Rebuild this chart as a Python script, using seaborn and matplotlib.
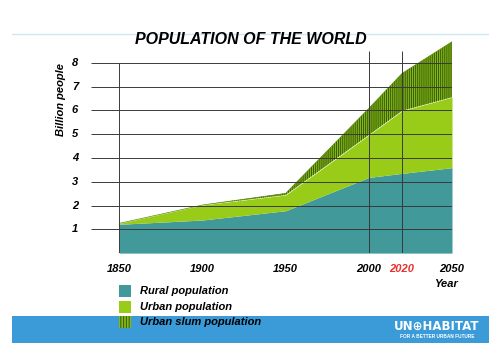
import matplotlib
matplotlib.use("Agg")
import matplotlib.pyplot as plt
import seaborn as sns
import numpy as np
import pandas as pd
from matplotlib.patches import Rectangle

years = [1850, 1900, 1950, 2000, 2020, 2050]
rural = [1.21, 1.39, 1.78, 3.18, 3.35, 3.59]
urban = [0.04, 0.63, 0.66, 1.78, 2.63, 2.96]
slum = [0.00, 0.00, 0.07, 1.12, 1.57, 2.33]
tick_years = [1850, 1900, 1950, 2000, 2020, 2050]
tick_labels = ["1850", "1900", "1950", "2000", "2020", "2050"]
y_ticks = [1, 2, 3, 4, 5, 6, 7, 8]
legend_labels = ["Rural population", "Urban population", "Urban slum population"]

sns.set_style("white")
plt.rcParams['font.family'] = ['Liberation Sans', 'DejaVu Sans']
plt.rcParams['text.color'] = 'black'
plt.rcParams['hatch.linewidth'] = 0.7

df = pd.DataFrame({"year": years, "rural": rural, "urban": urban, "slum": slum})
df["urban_top"] = df["rural"] + df["urban"]
df["slum_top"] = df["urban_top"] + df["slum"]

W, H = 499, 356
fig = plt.figure(figsize=(W / 100, H / 100), dpi=100)

def fx(px):
    return px / W

def fy(py):
    return 1 - py / H

x0_px, x1_px = 91, 452
unit = 23.8
y0_px = 253.1
ymax = 9.0
ax = fig.add_axes([fx(x0_px), fy(y0_px), (x1_px - x0_px) / W, ymax * unit / H])
px_per_year = (452 - 119.3) / 200
xmin = 1850 - (119.3 - 91) / px_per_year
ax.set_xlim(xmin, 2050)
ax.set_ylim(0, ymax)

teal = "#41999a"
green = "#99cc19"
slum_face = "#86b816"
slum_edge = "#355a08"

ax.fill_between(df["year"], 0, df["rural"], color=teal, lw=0, zorder=1)
ax.fill_between(df["year"], df["rural"], df["urban_top"], color=green, lw=0, zorder=1)
ax.fill_between(df["year"], df["urban_top"], df["slum_top"], facecolor=slum_face,
                edgecolor=slum_edge, hatch="||||||||", lw=0, zorder=1)
sns.lineplot(x="year", y="slum_top", data=df, ax=ax, color="#5a8a10", lw=0.5, zorder=2)

grid_c = "#3a3a3a"
ax.hlines(y_ticks, xmin, 2050, colors=grid_c, lw=0.7, zorder=3)
ax.vlines([1850], 0, 8, colors=grid_c, lw=0.7, zorder=3)
ax.vlines([2000, 2020], 0, 8.5, colors=grid_c, lw=0.7, zorder=3)

for s in ax.spines.values():
    s.set_visible(False)
ax.set_xticks([])
ax.set_yticks([])
ax.set_xlabel("")
ax.set_ylabel("")

tick_font = dict(fontsize=8, fontweight="bold", fontstyle="italic")
for v in y_ticks:
    fig.text(fx(75), fy(y0_px - v * unit), str(v), ha="center", va="center", **tick_font)

for yr, lab in zip(tick_years, tick_labels):
    xp = 119.3 + (yr - 1850) * px_per_year
    col = "#e8322a" if lab == "2020" else "black"
    fig.text(fx(xp), fy(269), lab, ha="center", va="center", color=col, **tick_font)

fig.text(fx(446), fy(284), "Year", ha="center", va="center", **tick_font)
fig.text(fx(61), fy(100), "Billion people", rotation=90, ha="center", va="center", **tick_font)

fig.text(fx(251), fy(40), "POPULATION OF THE WORLD", ha="center", va="center",
         fontsize=11.5, fontweight="bold", fontstyle="italic")

# top decorative line
fig.add_artist(plt.Line2D([fx(12), fx(488)], [fy(34), fy(34)], color="#cfe6f4", lw=1))

# blue band
fig.add_artist(Rectangle((fx(12), fy(343)), (489 - 12) / W, 27 / H,
                         facecolor="#3a9bd8", edgecolor="none", transform=fig.transFigure, zorder=0))

# legend
leg_y = [291, 307, 322]
for lab, yc, i in zip(legend_labels, leg_y, range(3)):
    if i == 2:
        r = Rectangle((fx(119), fy(yc + 6)), 12 / W, 12 / H, facecolor=slum_face,
                      edgecolor=slum_edge, hatch="||||||", lw=0, transform=fig.transFigure, zorder=2)
    else:
        r = Rectangle((fx(119), fy(yc + 6)), 12 / W, 12 / H, facecolor=[teal, green][i],
                      edgecolor="none", transform=fig.transFigure, zorder=2)
    fig.add_artist(r)
    fig.text(fx(140), fy(yc), lab, ha="left", va="center", zorder=3, **tick_font)

fig.text(fx(437), fy(326), "UN\u2295HABITAT", ha="center", va="center", color="white",
         fontsize=8.5, fontweight="bold", family=["DejaVu Sans"])
fig.text(fx(437), fy(336.5), "FOR A BETTER URBAN FUTURE", ha="center", va="center",
         color="white", fontsize=3.4, fontweight="bold")

fig.savefig("out.png", dpi=100)
